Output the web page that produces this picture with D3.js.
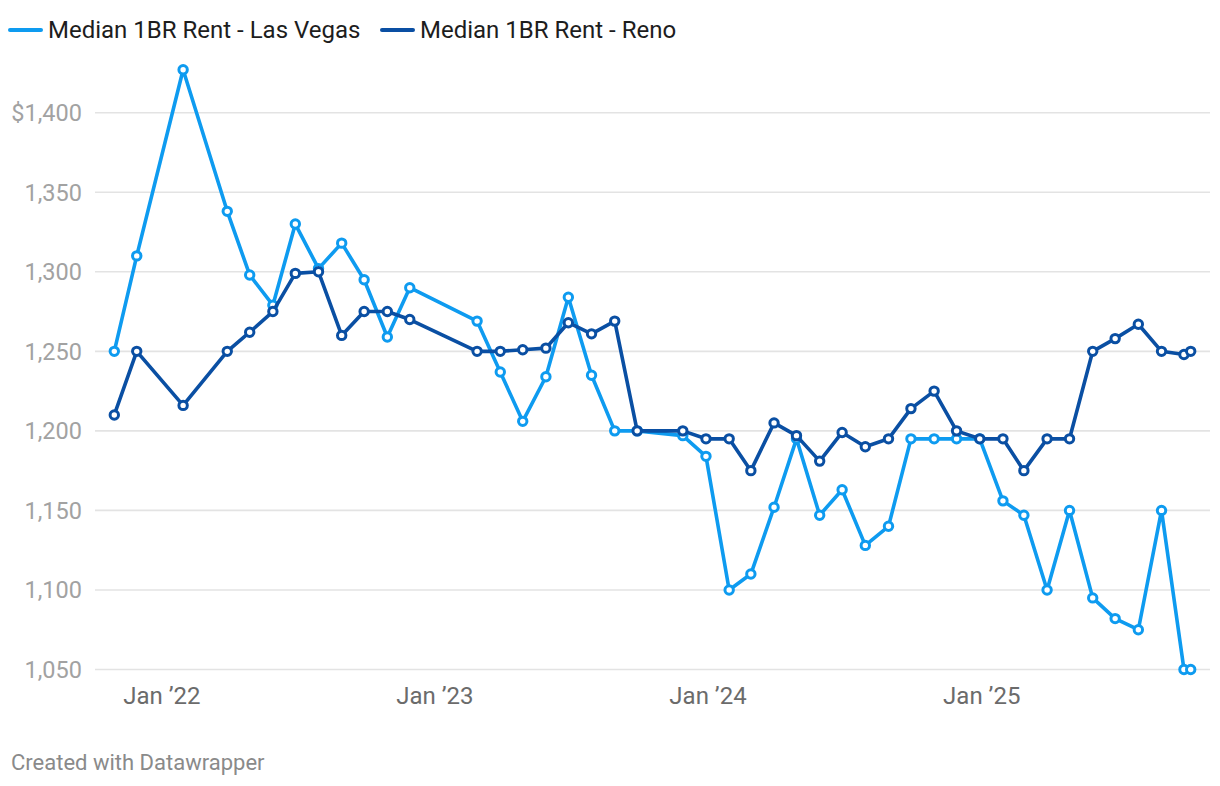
<!DOCTYPE html>
<html>
<head>
<meta charset="utf-8">
<script src="https://cdn.jsdelivr.net/npm/d3@7"></script>
<style>
  html, body { margin: 0; padding: 0; background: #fff; }
  svg { display: block; font-family: Roboto, "Noto Sans", sans-serif; }
</style>
</head>
<body>
<svg id="chart" width="1220" height="786"></svg>
<script>
// ---- Data ----
const dates = [
  "2021-11-01","2021-12-01","2022-02-01","2022-04-01","2022-05-01","2022-06-01",
  "2022-07-01","2022-08-01","2022-09-01","2022-10-01","2022-11-01","2022-12-01",
  "2023-03-01","2023-04-01","2023-05-01","2023-06-01","2023-07-01","2023-08-01",
  "2023-09-01","2023-10-01","2023-12-01","2024-01-01","2024-02-01","2024-03-01",
  "2024-04-01","2024-05-01","2024-06-01","2024-07-01","2024-08-01","2024-09-01",
  "2024-10-01","2024-11-01","2024-12-01","2025-01-01","2025-02-01","2025-03-01",
  "2025-04-01","2025-05-01","2025-06-01","2025-07-01","2025-08-01","2025-09-01",
  "2025-10-01","2025-10-10"
];
const lasVegas = [
  1250,1310,1427,1338,1298,1279,
  1330,1302,1318,1295,1259,1290,
  1269,1237,1206,1234,1284,1235,
  1200,1200,1197,1184,1100,1110,
  1152,1195,1147,1163,1128,1140,
  1195,1195,1195,1195,1156,1147,
  1100,1150,1095,1082,1075,1150,
  1050,1050
];
const reno = [
  1210,1250,1216,1250,1262,1275,
  1299,1300,1260,1275,1275,1270,
  1250,1250,1251,1252,1268,1261,
  1269,1200,1200,1195,1195,1175,
  1205,1197,1181,1199,1190,1195,
  1214,1225,1200,1195,1195,1175,
  1195,1195,1250,1258,1267,1250,
  1248,1250
];
const seriesNames = ["Median 1BR Rent - Las Vegas", "Median 1BR Rent - Reno"];
const seriesColors = ["#0e9bf0", "#0a4fa3"];
const yTicks = [1050, 1100, 1150, 1200, 1250, 1300, 1350, 1400];
const xTicks = ["2022-01-01", "2023-01-01", "2024-01-01", "2025-01-01"];
const footer = "Created with Datawrapper";

// ---- Setup ----
const parse = d3.utcParse("%Y-%m-%d");
const svg = d3.select("#chart");

const x = d3.scaleUtc()
  .domain([parse(dates[0]), parse(dates[dates.length - 1])])
  .range([114.3, 1190.7]);
const y = d3.scaleLinear().domain([1050, 1400]).range([669.5, 112.7]);

const gridLeft = 95, gridRight = 1210;

// Gridlines
svg.append("g").selectAll("line").data(yTicks).join("line")
  .attr("x1", gridLeft).attr("x2", gridRight)
  .attr("y1", d => y(d)).attr("y2", d => y(d))
  .attr("stroke", "#e3e3e3").attr("stroke-width", 1.6);

// Y axis labels
const fmt = d3.format(",");
svg.append("g").selectAll("text").data(yTicks).join("text")
  .attr("x", 82).attr("y", d => y(d)).attr("dy", "0.36em")
  .attr("text-anchor", "end")
  .attr("font-size", 23.5).attr("fill", "#a2a2a2")
  .text(d => (d === 1400 ? "$" : "") + fmt(d));

// X axis labels
const fmtX = d => "Jan \u2019" + d3.utcFormat("%y")(d);
svg.append("g").selectAll("text").data(xTicks.map(parse)).join("text")
  .attr("x", d => x(d) + 2).attr("y", 704)
  .attr("text-anchor", "middle")
  .attr("font-size", 24).attr("fill", "#6b6b6b")
  .text(fmtX);

// Lines and markers
const seriesData = [lasVegas, reno].map(vals =>
  dates.map((d, i) => ({ date: parse(d), value: vals[i] })));

const line = d3.line().x(d => x(d.date)).y(d => y(d.value));

seriesData.forEach((data, si) => {
  const g = svg.append("g");
  g.append("path").datum(data)
    .attr("d", line)
    .attr("fill", "none")
    .attr("stroke", seriesColors[si])
    .attr("stroke-width", 3.6)
    .attr("stroke-linejoin", "round")
    .attr("stroke-linecap", "round");
  g.selectAll("circle").data(data).join("circle")
    .attr("cx", d => x(d.date)).attr("cy", d => y(d.value))
    .attr("r", 4.2)
    .attr("fill", "#fff")
    .attr("stroke", seriesColors[si])
    .attr("stroke-width", 3);
});

// Legend
const legendX = [10, 382];
const legend = svg.append("g");
seriesNames.forEach((name, i) => {
  legend.append("line")
    .attr("x1", legendX[i]).attr("x2", legendX[i] + 31)
    .attr("y1", 30).attr("y2", 30)
    .attr("stroke", seriesColors[i]).attr("stroke-width", 4)
    .attr("stroke-linecap", "round");
  legend.append("text")
    .attr("x", legendX[i] + 38).attr("y", 38)
    .attr("font-size", 24).attr("fill", "#1d1d1d")
    .text(name);
});

// Footer
svg.append("text")
  .attr("x", 11).attr("y", 770)
  .attr("font-size", 22).attr("fill", "#8a8a8a")
  .text(footer);
</script>
</body>
</html>
